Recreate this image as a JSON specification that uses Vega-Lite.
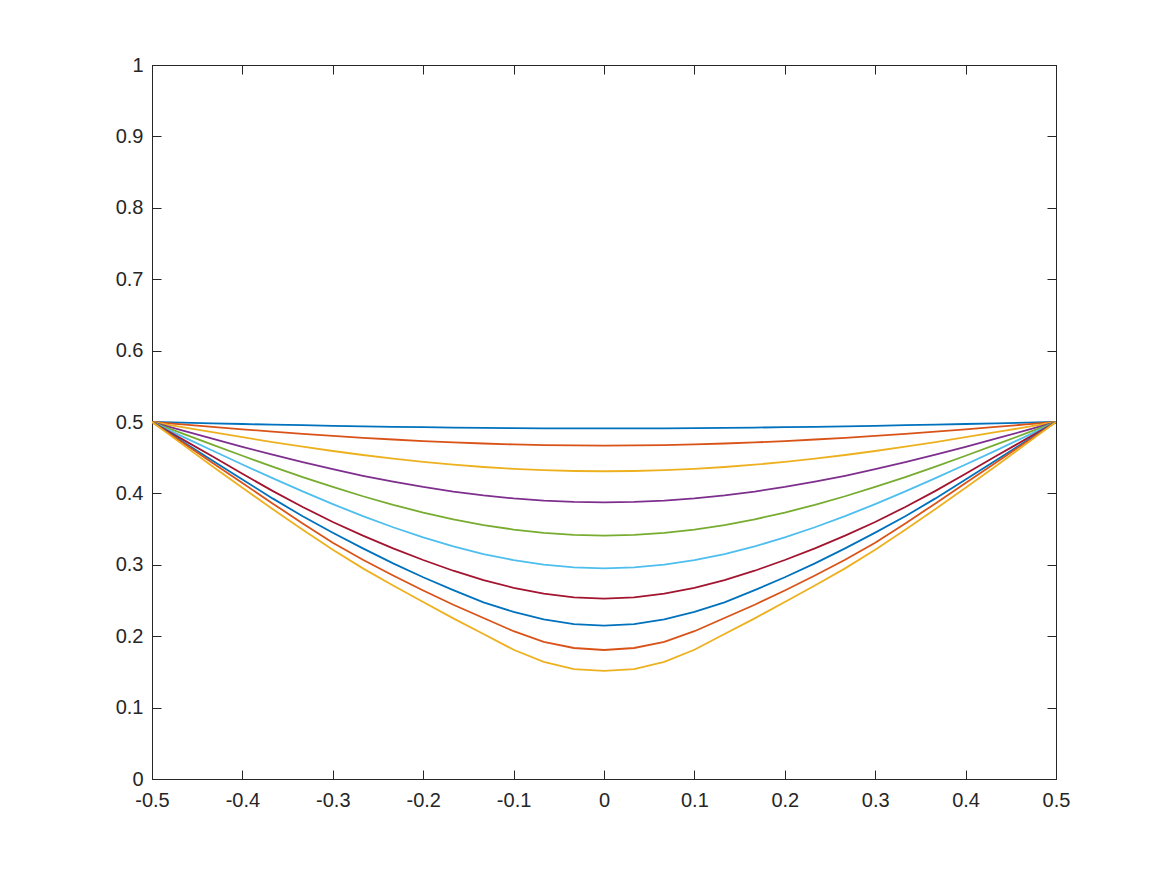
{"$schema":"https://vega.github.io/schema/vega-lite/v6.json","width":904,"height":714,"autosize":"none","padding":{"left":152,"top":65,"right":110,"bottom":96},"background":"white","config":{"view":{"stroke":"#262626","strokeWidth":1},"axis":{"labelFont":"Liberation Sans","labelFontSize":20,"labelColor":"#262626","tickColor":"#262626","domainColor":"#262626","tickWidth":1,"domainWidth":1,"grid":false,"title":null}},
"data":{"values":[
{"c":1,"x":-0.5,"y":0.5},{"c":1,"x":-0.4667,"y":0.4991},{"c":1,"x":-0.4333,"y":0.4981},{"c":1,"x":-0.4,"y":0.4972},{"c":1,"x":-0.3667,"y":0.4963},{"c":1,"x":-0.3333,"y":0.4955},{"c":1,"x":-0.3,"y":0.4947},{"c":1,"x":-0.2667,"y":0.494},{"c":1,"x":-0.2333,"y":0.4933},{"c":1,"x":-0.2,"y":0.4927},{"c":1,"x":-0.1667,"y":0.4922},{"c":1,"x":-0.1333,"y":0.4918},{"c":1,"x":-0.1,"y":0.4914},{"c":1,"x":-0.0667,"y":0.4912},{"c":1,"x":-0.0333,"y":0.4911},{"c":1,"x":0,"y":0.491},{"c":1,"x":0.0333,"y":0.4911},{"c":1,"x":0.0667,"y":0.4912},{"c":1,"x":0.1,"y":0.4914},{"c":1,"x":0.1333,"y":0.4918},{"c":1,"x":0.1667,"y":0.4922},{"c":1,"x":0.2,"y":0.4927},{"c":1,"x":0.2333,"y":0.4933},{"c":1,"x":0.2667,"y":0.494},{"c":1,"x":0.3,"y":0.4947},{"c":1,"x":0.3333,"y":0.4955},{"c":1,"x":0.3667,"y":0.4963},{"c":1,"x":0.4,"y":0.4972},{"c":1,"x":0.4333,"y":0.4981},{"c":1,"x":0.4667,"y":0.4991},{"c":1,"x":0.5,"y":0.5},
{"c":2,"x":-0.5,"y":0.5},{"c":2,"x":-0.4667,"y":0.4966},{"c":2,"x":-0.4333,"y":0.4931},{"c":2,"x":-0.4,"y":0.4898},{"c":2,"x":-0.3667,"y":0.4866},{"c":2,"x":-0.3333,"y":0.4835},{"c":2,"x":-0.3,"y":0.4806},{"c":2,"x":-0.2667,"y":0.4779},{"c":2,"x":-0.2333,"y":0.4755},{"c":2,"x":-0.2,"y":0.4733},{"c":2,"x":-0.1667,"y":0.4714},{"c":2,"x":-0.1333,"y":0.4699},{"c":2,"x":-0.1,"y":0.4686},{"c":2,"x":-0.0667,"y":0.4677},{"c":2,"x":-0.0333,"y":0.4672},{"c":2,"x":0,"y":0.467},{"c":2,"x":0.0333,"y":0.4672},{"c":2,"x":0.0667,"y":0.4677},{"c":2,"x":0.1,"y":0.4686},{"c":2,"x":0.1333,"y":0.4699},{"c":2,"x":0.1667,"y":0.4714},{"c":2,"x":0.2,"y":0.4733},{"c":2,"x":0.2333,"y":0.4755},{"c":2,"x":0.2667,"y":0.4779},{"c":2,"x":0.3,"y":0.4806},{"c":2,"x":0.3333,"y":0.4835},{"c":2,"x":0.3667,"y":0.4866},{"c":2,"x":0.4,"y":0.4898},{"c":2,"x":0.4333,"y":0.4931},{"c":2,"x":0.4667,"y":0.4966},{"c":2,"x":0.5,"y":0.5},
{"c":3,"x":-0.5,"y":0.5},{"c":3,"x":-0.4667,"y":0.4928},{"c":3,"x":-0.4333,"y":0.4857},{"c":3,"x":-0.4,"y":0.4787},{"c":3,"x":-0.3667,"y":0.4719},{"c":3,"x":-0.3333,"y":0.4655},{"c":3,"x":-0.3,"y":0.4594},{"c":3,"x":-0.2667,"y":0.4538},{"c":3,"x":-0.2333,"y":0.4487},{"c":3,"x":-0.2,"y":0.4442},{"c":3,"x":-0.1667,"y":0.4402},{"c":3,"x":-0.1333,"y":0.437},{"c":3,"x":-0.1,"y":0.4344},{"c":3,"x":-0.0667,"y":0.4325},{"c":3,"x":-0.0333,"y":0.4314},{"c":3,"x":0,"y":0.431},{"c":3,"x":0.0333,"y":0.4314},{"c":3,"x":0.0667,"y":0.4325},{"c":3,"x":0.1,"y":0.4344},{"c":3,"x":0.1333,"y":0.437},{"c":3,"x":0.1667,"y":0.4402},{"c":3,"x":0.2,"y":0.4442},{"c":3,"x":0.2333,"y":0.4487},{"c":3,"x":0.2667,"y":0.4538},{"c":3,"x":0.3,"y":0.4594},{"c":3,"x":0.3333,"y":0.4655},{"c":3,"x":0.3667,"y":0.4719},{"c":3,"x":0.4,"y":0.4787},{"c":3,"x":0.4333,"y":0.4857},{"c":3,"x":0.4667,"y":0.4928},{"c":3,"x":0.5,"y":0.5},
{"c":4,"x":-0.5,"y":0.5},{"c":4,"x":-0.4667,"y":0.4882},{"c":4,"x":-0.4333,"y":0.4766},{"c":4,"x":-0.4,"y":0.4652},{"c":4,"x":-0.3667,"y":0.4542},{"c":4,"x":-0.3333,"y":0.4438},{"c":4,"x":-0.3,"y":0.4339},{"c":4,"x":-0.2667,"y":0.4247},{"c":4,"x":-0.2333,"y":0.4164},{"c":4,"x":-0.2,"y":0.409},{"c":4,"x":-0.1667,"y":0.4026},{"c":4,"x":-0.1333,"y":0.3972},{"c":4,"x":-0.1,"y":0.393},{"c":4,"x":-0.0667,"y":0.39},{"c":4,"x":-0.0333,"y":0.3881},{"c":4,"x":0,"y":0.3875},{"c":4,"x":0.0333,"y":0.3881},{"c":4,"x":0.0667,"y":0.39},{"c":4,"x":0.1,"y":0.393},{"c":4,"x":0.1333,"y":0.3972},{"c":4,"x":0.1667,"y":0.4026},{"c":4,"x":0.2,"y":0.409},{"c":4,"x":0.2333,"y":0.4164},{"c":4,"x":0.2667,"y":0.4247},{"c":4,"x":0.3,"y":0.4339},{"c":4,"x":0.3333,"y":0.4438},{"c":4,"x":0.3667,"y":0.4542},{"c":4,"x":0.4,"y":0.4652},{"c":4,"x":0.4333,"y":0.4766},{"c":4,"x":0.4667,"y":0.4882},{"c":4,"x":0.5,"y":0.5},
{"c":5,"x":-0.5,"y":0.5},{"c":5,"x":-0.4667,"y":0.484},{"c":5,"x":-0.4333,"y":0.4682},{"c":5,"x":-0.4,"y":0.4527},{"c":5,"x":-0.3667,"y":0.4375},{"c":5,"x":-0.3333,"y":0.4229},{"c":5,"x":-0.3,"y":0.409},{"c":5,"x":-0.2667,"y":0.396},{"c":5,"x":-0.2333,"y":0.384},{"c":5,"x":-0.2,"y":0.3732},{"c":5,"x":-0.1667,"y":0.3637},{"c":5,"x":-0.1333,"y":0.3557},{"c":5,"x":-0.1,"y":0.3494},{"c":5,"x":-0.0667,"y":0.3447},{"c":5,"x":-0.0333,"y":0.3419},{"c":5,"x":0,"y":0.341},{"c":5,"x":0.0333,"y":0.3419},{"c":5,"x":0.0667,"y":0.3447},{"c":5,"x":0.1,"y":0.3494},{"c":5,"x":0.1333,"y":0.3557},{"c":5,"x":0.1667,"y":0.3637},{"c":5,"x":0.2,"y":0.3732},{"c":5,"x":0.2333,"y":0.384},{"c":5,"x":0.2667,"y":0.396},{"c":5,"x":0.3,"y":0.409},{"c":5,"x":0.3333,"y":0.4229},{"c":5,"x":0.3667,"y":0.4375},{"c":5,"x":0.4,"y":0.4527},{"c":5,"x":0.4333,"y":0.4682},{"c":5,"x":0.4667,"y":0.484},{"c":5,"x":0.5,"y":0.5},
{"c":6,"x":-0.5,"y":0.5},{"c":6,"x":-0.4667,"y":0.4799},{"c":6,"x":-0.4333,"y":0.46},{"c":6,"x":-0.4,"y":0.4404},{"c":6,"x":-0.3667,"y":0.4213},{"c":6,"x":-0.3333,"y":0.4028},{"c":6,"x":-0.3,"y":0.385},{"c":6,"x":-0.2667,"y":0.3682},{"c":6,"x":-0.2333,"y":0.3526},{"c":6,"x":-0.2,"y":0.3384},{"c":6,"x":-0.1667,"y":0.3258},{"c":6,"x":-0.1333,"y":0.3151},{"c":6,"x":-0.1,"y":0.3065},{"c":6,"x":-0.0667,"y":0.3002},{"c":6,"x":-0.0333,"y":0.2963},{"c":6,"x":0,"y":0.295},{"c":6,"x":0.0333,"y":0.2963},{"c":6,"x":0.0667,"y":0.3002},{"c":6,"x":0.1,"y":0.3065},{"c":6,"x":0.1333,"y":0.3151},{"c":6,"x":0.1667,"y":0.3258},{"c":6,"x":0.2,"y":0.3384},{"c":6,"x":0.2333,"y":0.3526},{"c":6,"x":0.2667,"y":0.3682},{"c":6,"x":0.3,"y":0.385},{"c":6,"x":0.3333,"y":0.4028},{"c":6,"x":0.3667,"y":0.4213},{"c":6,"x":0.4,"y":0.4404},{"c":6,"x":0.4333,"y":0.46},{"c":6,"x":0.4667,"y":0.4799},{"c":6,"x":0.5,"y":0.5},
{"c":7,"x":-0.5,"y":0.5},{"c":7,"x":-0.4667,"y":0.476},{"c":7,"x":-0.4333,"y":0.452},{"c":7,"x":-0.4,"y":0.4275},{"c":7,"x":-0.3667,"y":0.4035},{"c":7,"x":-0.3333,"y":0.381},{"c":7,"x":-0.3,"y":0.36},{"c":7,"x":-0.2667,"y":0.3409},{"c":7,"x":-0.2333,"y":0.3231},{"c":7,"x":-0.2,"y":0.3067},{"c":7,"x":-0.1667,"y":0.2917},{"c":7,"x":-0.1333,"y":0.2786},{"c":7,"x":-0.1,"y":0.2677},{"c":7,"x":-0.0667,"y":0.2595},{"c":7,"x":-0.0333,"y":0.2543},{"c":7,"x":0,"y":0.2526},{"c":7,"x":0.0333,"y":0.2543},{"c":7,"x":0.0667,"y":0.2595},{"c":7,"x":0.1,"y":0.2677},{"c":7,"x":0.1333,"y":0.2786},{"c":7,"x":0.1667,"y":0.2917},{"c":7,"x":0.2,"y":0.3067},{"c":7,"x":0.2333,"y":0.3231},{"c":7,"x":0.2667,"y":0.3409},{"c":7,"x":0.3,"y":0.36},{"c":7,"x":0.3333,"y":0.381},{"c":7,"x":0.3667,"y":0.4035},{"c":7,"x":0.4,"y":0.4275},{"c":7,"x":0.4333,"y":0.452},{"c":7,"x":0.4667,"y":0.476},{"c":7,"x":0.5,"y":0.5},
{"c":8,"x":-0.5,"y":0.5},{"c":8,"x":-0.4667,"y":0.473},{"c":8,"x":-0.4333,"y":0.446},{"c":8,"x":-0.4,"y":0.4195},{"c":8,"x":-0.3667,"y":0.393},{"c":8,"x":-0.3333,"y":0.368},{"c":8,"x":-0.3,"y":0.345},{"c":8,"x":-0.2667,"y":0.323},{"c":8,"x":-0.2333,"y":0.302},{"c":8,"x":-0.2,"y":0.2825},{"c":8,"x":-0.1667,"y":0.2645},{"c":8,"x":-0.1333,"y":0.2475},{"c":8,"x":-0.1,"y":0.234},{"c":8,"x":-0.0667,"y":0.2236},{"c":8,"x":-0.0333,"y":0.217},{"c":8,"x":0,"y":0.2147},{"c":8,"x":0.0333,"y":0.217},{"c":8,"x":0.0667,"y":0.2236},{"c":8,"x":0.1,"y":0.234},{"c":8,"x":0.1333,"y":0.2475},{"c":8,"x":0.1667,"y":0.2645},{"c":8,"x":0.2,"y":0.2825},{"c":8,"x":0.2333,"y":0.302},{"c":8,"x":0.2667,"y":0.323},{"c":8,"x":0.3,"y":0.345},{"c":8,"x":0.3333,"y":0.368},{"c":8,"x":0.3667,"y":0.393},{"c":8,"x":0.4,"y":0.4195},{"c":8,"x":0.4333,"y":0.446},{"c":8,"x":0.4667,"y":0.473},{"c":8,"x":0.5,"y":0.5},
{"c":9,"x":-0.5,"y":0.5},{"c":9,"x":-0.4667,"y":0.4715},{"c":9,"x":-0.4333,"y":0.443},{"c":9,"x":-0.4,"y":0.4145},{"c":9,"x":-0.3667,"y":0.386},{"c":9,"x":-0.3333,"y":0.358},{"c":9,"x":-0.3,"y":0.331},{"c":9,"x":-0.2667,"y":0.307},{"c":9,"x":-0.2333,"y":0.285},{"c":9,"x":-0.2,"y":0.264},{"c":9,"x":-0.1667,"y":0.244},{"c":9,"x":-0.1333,"y":0.2255},{"c":9,"x":-0.1,"y":0.207},{"c":9,"x":-0.0667,"y":0.192},{"c":9,"x":-0.0333,"y":0.1835},{"c":9,"x":0,"y":0.1807},{"c":9,"x":0.0333,"y":0.1835},{"c":9,"x":0.0667,"y":0.192},{"c":9,"x":0.1,"y":0.207},{"c":9,"x":0.1333,"y":0.2255},{"c":9,"x":0.1667,"y":0.244},{"c":9,"x":0.2,"y":0.264},{"c":9,"x":0.2333,"y":0.285},{"c":9,"x":0.2667,"y":0.307},{"c":9,"x":0.3,"y":0.331},{"c":9,"x":0.3333,"y":0.358},{"c":9,"x":0.3667,"y":0.386},{"c":9,"x":0.4,"y":0.4145},{"c":9,"x":0.4333,"y":0.443},{"c":9,"x":0.4667,"y":0.4715},{"c":9,"x":0.5,"y":0.5},
{"c":10,"x":-0.5,"y":0.5},{"c":10,"x":-0.4667,"y":0.469},{"c":10,"x":-0.4333,"y":0.438},{"c":10,"x":-0.4,"y":0.408},{"c":10,"x":-0.3667,"y":0.378},{"c":10,"x":-0.3333,"y":0.349},{"c":10,"x":-0.3,"y":0.321},{"c":10,"x":-0.2667,"y":0.295},{"c":10,"x":-0.2333,"y":0.271},{"c":10,"x":-0.2,"y":0.248},{"c":10,"x":-0.1667,"y":0.225},{"c":10,"x":-0.1333,"y":0.203},{"c":10,"x":-0.1,"y":0.181},{"c":10,"x":-0.0667,"y":0.164},{"c":10,"x":-0.0333,"y":0.154},{"c":10,"x":0,"y":0.1513},{"c":10,"x":0.0333,"y":0.154},{"c":10,"x":0.0667,"y":0.164},{"c":10,"x":0.1,"y":0.181},{"c":10,"x":0.1333,"y":0.203},{"c":10,"x":0.1667,"y":0.225},{"c":10,"x":0.2,"y":0.248},{"c":10,"x":0.2333,"y":0.271},{"c":10,"x":0.2667,"y":0.295},{"c":10,"x":0.3,"y":0.321},{"c":10,"x":0.3333,"y":0.349},{"c":10,"x":0.3667,"y":0.378},{"c":10,"x":0.4,"y":0.408},{"c":10,"x":0.4333,"y":0.438},{"c":10,"x":0.4667,"y":0.469},{"c":10,"x":0.5,"y":0.5}
]},
"layer":[
{"mark":{"type":"line","strokeWidth":1.8,"clip":true},
"encoding":{
"x":{"field":"x","type":"quantitative","scale":{"domain":[-0.5,0.5],"nice":false,"zero":false},"axis":{"orient":"bottom","values":[-0.5,-0.4,-0.3,-0.2,-0.1,0,0.1,0.2,0.3,0.4,0.5],"labelExpr":"datum.value == 0 ? '0' : (datum.value < 0 ? '-' + format(-datum.value, '.1f') : format(datum.value, '.1f'))","tickSize":-9,"labelPadding":20,"labelFlush":false,"labelOverlap":false}},
"y":{"field":"y","type":"quantitative","scale":{"domain":[0,1],"nice":false,"zero":false},"axis":{"orient":"left","values":[0,0.1,0.2,0.3,0.4,0.5,0.6,0.7,0.8,0.9,1],"labelExpr":"datum.value == 0 ? '0' : (datum.value == 1 ? '1' : format(datum.value, '.1f'))","tickSize":-9,"labelPadding":18,"labelFlush":false,"labelOverlap":false}},
"color":{"field":"c","type":"nominal","scale":{"domain":[1,2,3,4,5,6,7,8,9,10],"range":["#0072BD","#D95319","#EDB120","#7E2F8E","#77AC30","#4DBEEE","#A2142F","#0072BD","#D95319","#EDB120"]},"legend":null}
}},
{"mark":{"type":"line","opacity":0},
"encoding":{
"x":{"field":"x","type":"quantitative","scale":{"domain":[-0.5,0.5],"nice":false,"zero":false},"axis":{"orient":"top","values":[-0.5,-0.4,-0.3,-0.2,-0.1,0,0.1,0.2,0.3,0.4,0.5],"labels":false,"tickSize":-9}},
"y":{"field":"y","type":"quantitative","scale":{"domain":[0,1],"nice":false,"zero":false},"axis":{"orient":"right","values":[0,0.1,0.2,0.3,0.4,0.5,0.6,0.7,0.8,0.9,1],"labels":false,"tickSize":-9}}
}}
],
"resolve":{"axis":{"x":"independent","y":"independent"}}
}
